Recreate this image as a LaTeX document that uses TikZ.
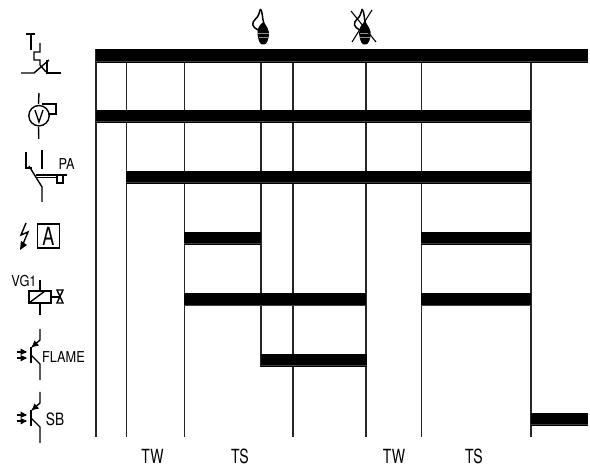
\documentclass[tikz,border=0pt]{standalone}
\usepackage{fontspec}
\setmainfont{TeX Gyre Heros}
\tikzset{
 vline/.style={draw=black!85,line width=1.5pt},
 barfill/.style={fill=black,draw=none},
 sym/.style={draw=black,line width=1.4pt,line join=miter,fill=none},
 lbl/.style={inner sep=0pt,font=\fontsize{15}{15}\selectfont,transform shape,xscale=0.85},
 blbl/.style={inner sep=0pt,font=\fontsize{19.5}{19.5}\selectfont,transform shape,xscale=0.72},
}
\newcommand{\timebar}[3]{\fill[barfill] (#1,#3-6.7) rectangle (#2,#3+6.7);
 \draw[black!75,line width=.4pt] (#1,#3+5.2)--(#2,#3+5.2);}
\newcommand{\photo}[1]{%
 \begin{scope}[shift={(0,#1)}]
  \draw[sym] (40,0)--(40,11)--(32,18);
  \fill (32,18)--(34.5,11.5)--(39,16.5)--cycle;
  \draw[sym] (31,18)--(31,34);
  \draw[sym] (31,26)--(40,35)--(40,51);
  \draw[sym] (16.5,23)--(26,23);
  \draw[sym] (16.5,29)--(26,29);
  \fill (27,23)--(20.5,19.5)--(20.5,26)--cycle;
  \fill (27,29)--(20.5,26)--(20.5,32.5)--cycle;
 \end{scope}}
\newcommand{\flame}[1]{%
 \begin{scope}[shift={(#1,0)}]
  \draw[sym,line width=1.5pt] (260.5,9)..controls (259,13) and (259,16) ..(255.5,19)
     ..controls (251,23) and (252,27) .. (258,30);
  \draw[sym,line width=1.5pt] (260.5,9)..controls (263,13) and (262,18) .. (264,24);
  \fill (263.5,22)..controls (267,26) and (269.5,31) .. (269,35)
     ..controls (268.5,39) and (267,44) .. (264.5,44.5)
     --(261.5,44.5)..controls (259,43) and (258,38) .. (257.5,34)
     ..controls (257,29) and (259,25) .. (263.5,22)--cycle;
  \draw[black!45,line width=.4pt] (258,33)--(269,33) (258.5,37)--(268.5,37);
 \end{scope}}
\begin{document}
\begin{tikzpicture}[x=1pt,y=-1pt]
\useasboundingbox (0,0) rectangle (590,470);
\fill[white] (0,0) rectangle (590,470);
% time lines
\draw[vline] (96,49)--(96,437);
\draw[vline] (126.5,49)--(126.5,437);
\draw[vline] (184.5,49)--(184.5,437);
\draw[vline] (261,49)--(261,367);
\draw[vline] (293,49)--(293,437);
\draw[vline] (366,49)--(366,437);
\draw[vline] (421.5,49)--(421.5,437);
\draw[vline] (531,49)--(531,437);
% bars
\timebar{96}{588}{56}
\timebar{96}{531}{116.5}
\timebar{126}{531}{177.5}
\timebar{184}{261}{238.5}
\timebar{421}{531}{238.5}
\timebar{184}{366}{299.7}
\timebar{421}{531}{299.7}
\timebar{261}{367}{360.3}
\timebar{531}{588}{419.5}
% flames
\flame{0}
\flame{101.7}
\draw[sym,line width=1.1pt] (351,11)--(376,42);
\draw[sym,line width=1.1pt] (372,10)--(352,42);
% thermostat
\draw[sym] (26,34)--(35,34) (31,34)--(31,50);
\draw[sym] (40,43)--(40,52)--(34,52)--(34,60)--(40,60)--(40,65)--(46,72);
\draw[sym] (21,73)--(34,73)--(49,60);
\draw[sym] (47,60)--(47,73)--(61,73);
% fan
\draw[sym] (39,93)--(38.5,104);
\draw[sym] (38.5,127)--(38.8,139);
\draw[sym] (39,115.7) circle (10.2);
\draw[sym] (42,104)--(56,104)--(56,114)--(49,114);
\draw[sym] (35,110)--(39,122)--(43,110);
% PA
\draw[sym] (26,152)--(26,168)--(32,168);
\draw[sym] (42,150)--(42,169);
\draw[sym] (29,166)--(42,187)--(42,202);
\draw[sym] (36,175)--(67,175);
\draw[sym] (36,177.5)--(57,177.5);
\draw[sym] (57,175)--(57,183)--(63,183)--(63,175);
\node[lbl] (pa) at (66.5,164) {PA};
% ignition
\draw[sym] (26,223)--(21,235)--(28,232)--(23,244);
\fill (20,250)--(21,241)--(27,245)--cycle;
\node[draw=black,line width=1.2pt,minimum width=22pt,minimum height=24pt,inner sep=0pt] (abox) at (48.5,236) {};
\node[inner sep=0pt,font=\fontsize{25}{25}\selectfont,transform shape,xscale=0.72] (atxt) at (48.5,236) {A};
% valve
\node[lbl] (vg) at (24,281) {VG1};
\draw[sym] (40,280)--(40,291) (40,303)--(40,315);
\draw[sym] (29,291) rectangle (51,303);
\draw[sym] (29,303)--(45,291);
\draw[sym] (51,297)--(60,297);
\draw[sym] (57,290)--(63,290)--(57,303)--(63,303)--cycle;
% flame sensors
\photo{329}
\node[lbl] (fl) at (63.5,357) {FLAME};
\photo{392}
\node[lbl,font=\fontsize{17}{17}\selectfont,xscale=0.95] (sb) at (55,419) {SB};
% bottom labels
\node[blbl] (t1) at (152.5,456) {TW};
\node[blbl] (t2) at (240,456) {TS};
\node[blbl] (t3) at (394,456) {TW};
\node[blbl] (t4) at (474,456) {TS};
\end{tikzpicture}
\end{document}
